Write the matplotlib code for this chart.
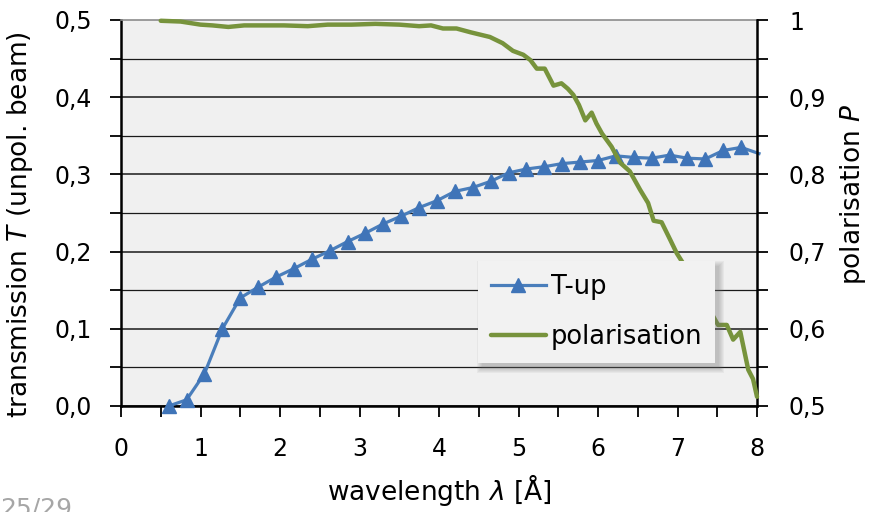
import matplotlib
matplotlib.use("Agg")
import matplotlib.pyplot as plt
from matplotlib.patches import Rectangle
from matplotlib.transforms import IdentityTransform
from matplotlib.ticker import MultipleLocator, FuncFormatter

plt.rcParams['font.family'] = ['DejaVu Sans']
plt.rcParams['mathtext.fontset'] = 'dejavusans'

# transmission of the up-spin channel vs wavelength
wl_t = [0.600, 0.825, 1.050, 1.275, 1.500, 1.725, 1.950, 2.175, 2.400, 2.625,
        2.850, 3.075, 3.300, 3.525, 3.750, 3.975, 4.200, 4.425, 4.650, 4.875,
        5.100, 5.325, 5.550, 5.775, 6.000, 6.225, 6.450, 6.675, 6.900, 7.125,
        7.350, 7.575, 7.800, 8.025]
t_up = [0.000, 0.008, 0.042, 0.100, 0.140, 0.154, 0.167, 0.178, 0.190, 0.201,
        0.213, 0.224, 0.236, 0.246, 0.257, 0.266, 0.278, 0.283, 0.291, 0.302,
        0.307, 0.310, 0.314, 0.316, 0.318, 0.324, 0.322, 0.321, 0.325, 0.321,
        0.320, 0.331, 0.335, 0.327]

# polarisation vs wavelength
wl_p = [0.50, 0.75, 1.00, 1.15, 1.35, 1.55, 1.80, 2.05, 2.35, 2.60,
        2.90, 3.20, 3.50, 3.75, 3.90, 4.05, 4.22, 4.40, 4.64, 4.80,
        4.93, 5.06, 5.15, 5.23, 5.33, 5.44, 5.54, 5.62, 5.69, 5.76,
        5.84, 5.92, 5.98, 6.05, 6.17, 6.28, 6.40, 6.53, 6.63, 6.70,
        6.80, 6.91, 6.99, 7.10, 7.20, 7.30, 7.40, 7.51, 7.62, 7.70,
        7.79, 7.89, 7.95, 8.00]
pol = [0.999, 0.998, 0.994, 0.993, 0.991, 0.993, 0.993, 0.993, 0.992, 0.994,
       0.994, 0.995, 0.994, 0.992, 0.993, 0.989, 0.989, 0.984, 0.978, 0.970,
       0.960, 0.955, 0.948, 0.937, 0.937, 0.915, 0.918, 0.911, 0.903, 0.890,
       0.870, 0.880, 0.866, 0.853, 0.836, 0.815, 0.804, 0.780, 0.763, 0.740,
       0.738, 0.715, 0.698, 0.680, 0.665, 0.645, 0.625, 0.605, 0.605, 0.586,
       0.596, 0.547, 0.535, 0.512]

x_ticks = [0, 1, 2, 3, 4, 5, 6, 7, 8]
t_ticks = [0.0, 0.1, 0.2, 0.3, 0.4, 0.5]
p_ticks = [0.5, 0.6, 0.7, 0.8, 0.9, 1.0]

BLUE = '#4a7ebb'
GREEN = '#77933c'
TICK_FS = 17
LABEL_FS = 19


def comma(v, _pos=None):
    if abs(v - round(v)) < 1e-9:
        return f"{int(round(v))}"
    return f"{v:.1f}".replace('.', ',')


fig = plt.figure(figsize=(8.69, 5.12), dpi=100)
ax = fig.add_axes([121/869, 1-406/512, 636/869, 386/512])
ax.set_facecolor('#f0f0f0')

ax.set_xlim(0, 8)
ax.set_ylim(0, 0.5)
ax.set_xticks(x_ticks)
ax.xaxis.set_minor_locator(MultipleLocator(0.5))
ax.set_yticks(t_ticks)
ax.yaxis.set_minor_locator(MultipleLocator(0.05))
ax.yaxis.set_major_formatter(FuncFormatter(lambda v, p: f"{v:.1f}".replace('.', ',')))

ax.grid(which='major', axis='y', color='#1a1a1a', lw=1.1)
ax.grid(which='minor', axis='y', color='#1a1a1a', lw=0.9)
ax.yaxis.get_gridlines()[-1].set_visible(False)
ax.set_axisbelow(True)

for s in ('left', 'bottom'):
    ax.spines[s].set_linewidth(1.8)
ax.spines['top'].set_color('#8c8c8c')
ax.spines['top'].set_linewidth(1.2)
ax.spines['right'].set_visible(False)

ax.tick_params(axis='both', which='both', direction='out', length=8, width=1.3,
               labelsize=TICK_FS)
ax.tick_params(axis='x', pad=14)
ax.tick_params(axis='y', pad=13)

ax.plot(wl_t, t_up, color=BLUE, lw=2.3, marker='^', ms=9.5, mfc='#3f74b8',
        mec='#3f74b8', markevery=list(range(len(wl_t) - 1)), clip_on=False,
        zorder=3, label='T-up')

ax2 = ax.twinx()
ax2.set_ylim(0.5, 1.0)
ax2.set_yticks(p_ticks)
ax2.yaxis.set_minor_locator(MultipleLocator(0.05))
ax2.yaxis.set_major_formatter(FuncFormatter(comma))
ax2.tick_params(axis='y', which='both', direction='out', length=8, width=1.3,
                labelsize=TICK_FS, pad=15)
ax2.spines['right'].set_linewidth(1.8)
for s in ('left', 'top', 'bottom'):
    ax2.spines[s].set_visible(False)

ax2.plot(wl_p, pol, color=GREEN, lw=3.2, clip_on=False, zorder=3,
         solid_capstyle='round', label='polarisation')

h1, l1 = ax.get_legend_handles_labels()
h2, l2 = ax2.get_legend_handles_labels()
leg = ax2.legend(h1 + h2, l1 + l2, loc='lower left',
                 bbox_to_anchor=(0.561, 0.111), borderaxespad=0,
                 fontsize=18.5, frameon=True, fancybox=False,
                 facecolor='#f2f2f2', edgecolor='none', framealpha=1,
                 handlelength=2.15, handletextpad=0.2, labelspacing=0.95,
                 borderpad=0.5)
leg.set_zorder(10)

ax.set_xlabel(r'wavelength $\lambda$ [Å]', fontsize=LABEL_FS)
ax.xaxis.set_label_coords(0.5, -0.172)
ax.set_ylabel(r'transmission $T$ (unpol. beam)', fontsize=LABEL_FS)
ax.yaxis.set_label_coords(-0.135, 0.47)
ax2.set_ylabel(r'polarisation $P$', fontsize=LABEL_FS)
ax2.yaxis.set_label_coords(1.127, 0.547)

fig.text(0.0, -4/512, '25/29', fontsize=18, color='#a6a6a6',
         ha='left', va='baseline')

# soft drop shadow behind the legend box
fig.canvas.draw()
bb = leg.get_frame().get_window_extent()
for k in range(6):
    g = 5 - k
    ax2.add_artist(Rectangle((bb.x0 + 4 - g, bb.y0 - 5 - g), bb.width + 2 * g,
                             bb.height + 2 * g, transform=IdentityTransform(),
                             facecolor='#707070', edgecolor='none',
                             alpha=0.07, zorder=9, clip_on=False))

fig.savefig('out.png', dpi=100)
